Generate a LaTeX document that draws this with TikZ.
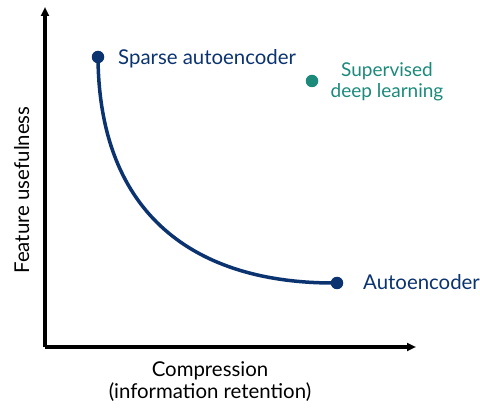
\documentclass[tikz,border=0pt]{standalone}
\usepackage{fontspec}
\setmainfont{Lato}
\usetikzlibrary{arrows.meta}
\definecolor{navy}{HTML}{0B3370}
\definecolor{teal}{HTML}{1B8A7A}
\begin{document}
\begin{tikzpicture}[x=1pt,y=-1pt,
  axis/.style={line width=3.2pt,-{Triangle[length=9pt,width=8pt]}},
  lbl/.style={font=\fontsize{20.4}{22}\selectfont,inner sep=0pt},
  slbl/.style={font=\fontsize{19}{21.5}\selectfont,inner sep=0pt},
  dot/.style={circle,inner sep=0pt,minimum size=12.5pt}]
\useasboundingbox (0,0) rectangle (480,409);
\coordinate (origin) at (45,347);
\coordinate (ytop) at (45,7);
\coordinate (xend) at (416,347);
\draw[axis] (origin) -- (ytop);
\draw[axis] (origin) -- (xend);
\node[dot,fill=navy] (sparse) at (98,57) {};
\node[dot,fill=navy] (auto) at (337,283) {};
\node[dot,fill=teal] (sup) at (312,81) {};
\draw[navy,line width=3.5pt] (sparse.center) .. controls (99,215) and (195,284) .. (auto.center);
\node[lbl,navy,anchor=base west] (sparselbl) at (118,65) {Sparse autoencoder};
\node[lbl,navy,anchor=base west] (autolbl) at (363,290) {Autoencoder};
\node[slbl,teal,anchor=base] (suplbl1) at (387,77) {Supervised};
\node[slbl,teal,anchor=base] (suplbl2) at (387,98) {deep learning};
\node[lbl,anchor=base] (xlbl1) at (210,376) {Compression};
\node[lbl,anchor=base] (xlbl2) at (210,398) {(information retention)};
\node[lbl,rotate=90,anchor=base] (ylbl) at (29,190) {Feature usefulness};
\end{tikzpicture}
\end{document}
